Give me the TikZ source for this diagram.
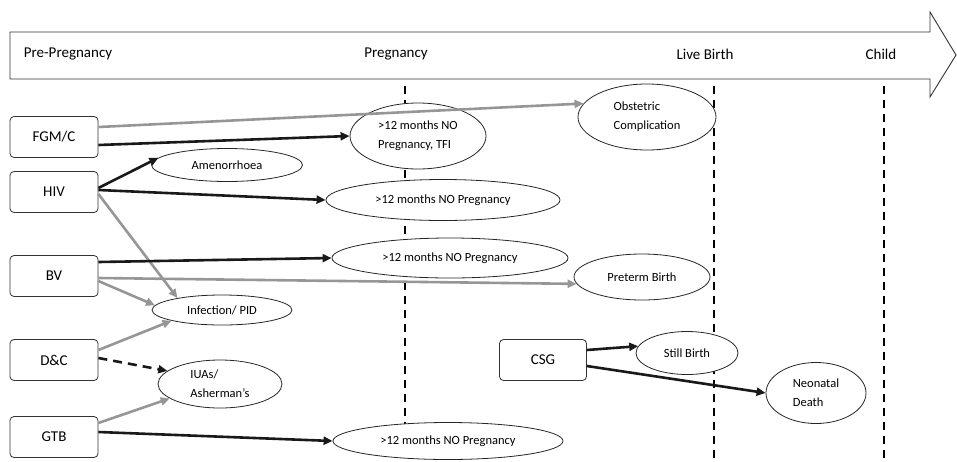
\documentclass[tikz,border=0pt]{standalone}
\usepackage{fontspec}
\setmainfont{Carlito}
\usetikzlibrary{shapes.geometric,arrows.meta}
\definecolor{lgray}{RGB}{150,150,150}
\tikzset{
  box/.style={draw=black!80,line width=0.8pt,rounded corners=4pt,minimum width=88pt,minimum height=41pt,inner sep=0pt,font=\fontsize{15}{17}\selectfont,fill=white},
  oval/.style={draw=black!85,line width=0.8pt,ellipse,inner sep=0pt,fill=white,font=\fontsize{12.5}{19}\selectfont},
  phase/.style={font=\fontsize{15}{17}\selectfont,inner sep=0pt},
  blk/.style={draw=black!90,line width=2.6pt,-{Triangle[length=9pt,width=8pt]},shorten >=0pt},
  gry/.style={draw=lgray,line width=2.6pt,-{Triangle[length=9pt,width=8pt]}},
  vdash/.style={draw=black,line width=1.8pt,dash pattern=on 8pt off 6pt}
}
\begin{document}
\begin{tikzpicture}[x=1pt,y=-1pt]
\useasboundingbox (0,0) rectangle (957,461);
% timeline arrow
\draw[line width=0.9pt,draw=black!80,fill=white] (10,32) -- (930,32) -- (930,12) -- (956,55) -- (930,97) -- (930,79) -- (10,79) -- cycle;
\node[phase] (pp) at (68,54) {Pre-Pregnancy};
\node[phase] (pg) at (396,54) {Pregnancy};
\node[phase] (lb) at (705,54) {Live Birth};
\node[phase] (ch) at (881,54) {Child};
% dashed phase lines
\coordinate (d1t) at (405,86); \coordinate (d1b) at (405,461);
\coordinate (d2t) at (714,86); \coordinate (d2b) at (714,461);
\coordinate (d3t) at (884,86); \coordinate (d3b) at (884,461);
\draw[vdash] (d1t) -- (d1b);
\draw[vdash] (d2t) -- (d2b);
\draw[vdash] (d3t) -- (d3b);
% boxes
\node[box] (fgm) at (54,137) {FGM/C};
\node[box] (hiv) at (54,192) {HIV};
\node[box] (bv) at (54,276) {BV};
\node[box] (dc) at (54,360) {D\&C};
\node[box] (gtb) at (54,437) {GTB};
\node[box,minimum width=87pt] (csg) at (543,360) {CSG};
% ellipses
\node[oval,minimum width=136pt,minimum height=66pt,align=left] (tfi) at (418,136) {>12 months NO\\Pregnancy, TFI};
\node[oval,minimum width=151pt,minimum height=33pt] (amen) at (227,165) {Amenorrhoea};
\node[oval,minimum width=234pt,minimum height=41pt] (hivp) at (443,200) {>12 months NO Pregnancy};
\node[oval,minimum width=236pt,minimum height=40pt] (bvp) at (450,258) {>12 months NO Pregnancy};
\node[oval,minimum width=138pt,minimum height=66pt,align=left] (obs) at (647,117) {Obstetric\\Complication};
\node[oval,minimum width=136pt,minimum height=46pt] (pre) at (642,277) {Preterm Birth};
\node[oval,minimum width=140pt,minimum height=30pt] (inf) at (222,310) {Infection/ PID};
\node[oval,minimum width=124pt,minimum height=48pt,align=left] (iua) at (220,384) {IUAs/\\Asherman’s};
\node[oval,minimum width=230pt,minimum height=37pt] (gtbp) at (448,441) {>12 months NO Pregnancy};
\node[oval,minimum width=102pt,minimum height=43pt] (still) at (687,353) {Still Birth};
\node[oval,minimum width=100pt,minimum height=61pt,align=left] (neo) at (816,393) {Neonatal\\Death};
% connectors
\draw[gry] ([yshift=10pt]fgm.east) -- (obs.168);
\draw[blk] ([yshift=-8pt]fgm.east) -- (tfi.west);
\draw[blk] ([yshift=4pt]hiv.east) -- (amen.174);
\draw[blk] ([yshift=2pt]hiv.east) -- (hivp.west);
\draw[gry] ([yshift=-2pt]hiv.east) -- (inf.165);
\draw[blk] ([yshift=14pt]bv.east) -- (bvp.west);
\draw[gry] ([yshift=-2pt]bv.east) -- (pre.186);
\draw[gry] ([yshift=-5pt]bv.east) -- (inf.176);
\draw[gry] ([yshift=10pt]dc.east) -- (inf.192);
\draw[blk,dashed,dash pattern=on 9pt off 6pt] ([yshift=2pt]dc.east) -- (iua.166);
\draw[gry] ([yshift=14pt]gtb.east) -- (iua.196);
\draw[blk] ([yshift=5pt]gtb.east) -- (gtbp.west);
\draw[blk] ([yshift=10pt]csg.east) -- (still.172);
\draw[blk] ([yshift=-6pt]csg.east) -- (neo.west);
\end{tikzpicture}
\end{document}
